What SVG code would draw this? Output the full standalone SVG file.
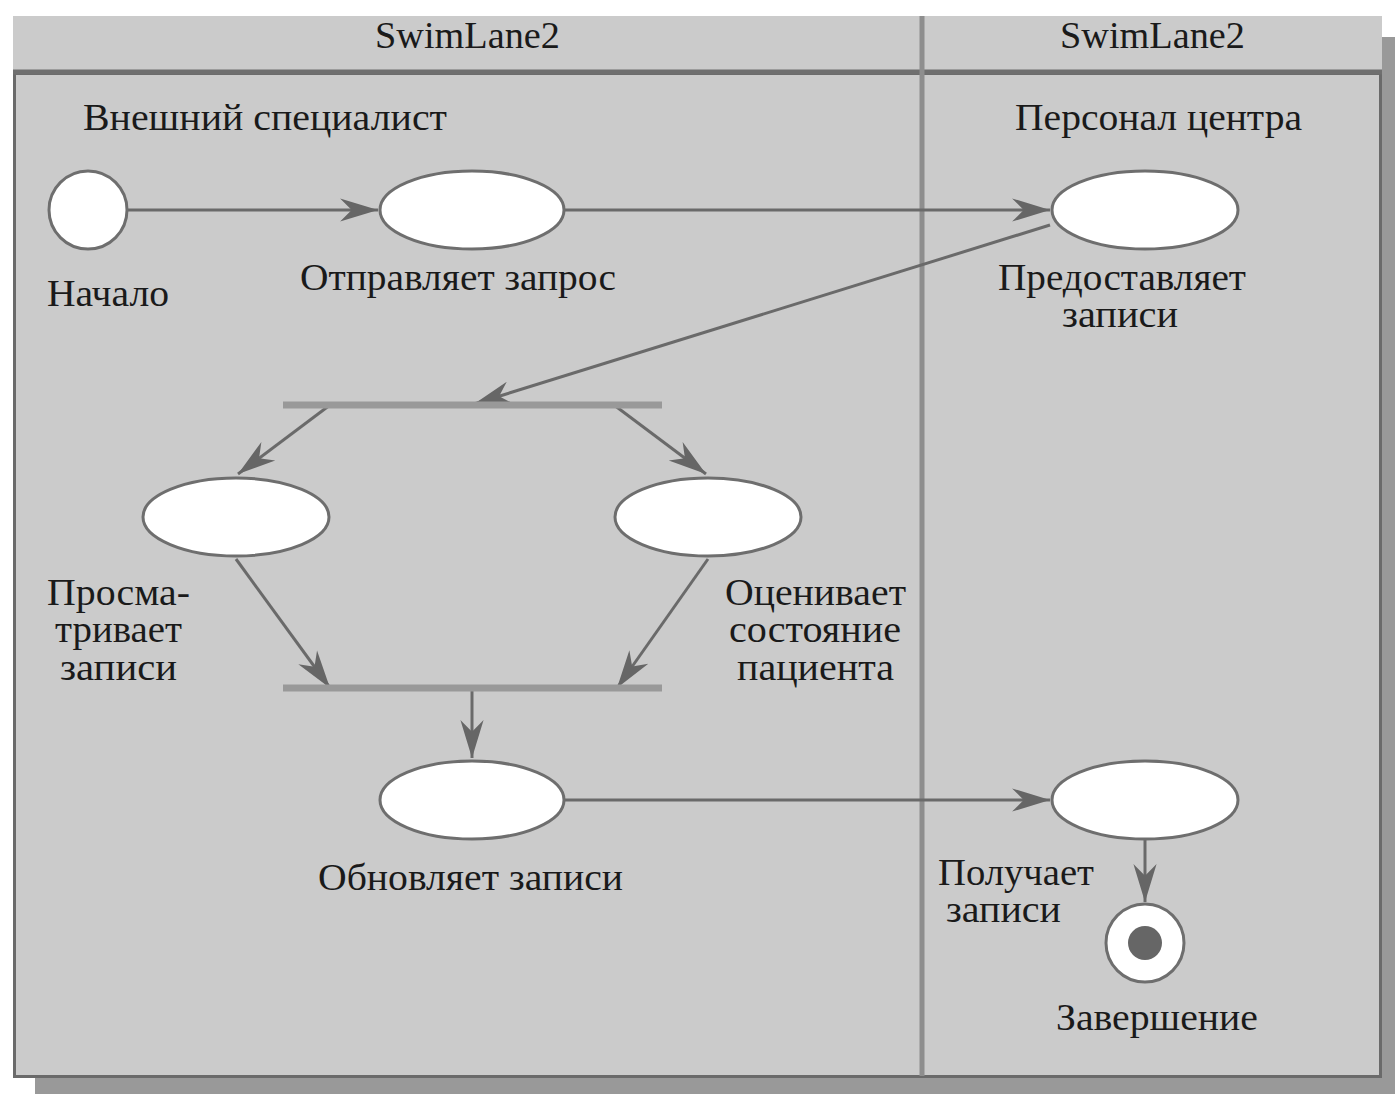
<svg xmlns="http://www.w3.org/2000/svg" width="1395" height="1094" viewBox="0 0 1395 1094">
<defs>
<style>
text{font-family:"Liberation Serif","Times New Roman",serif;font-size:37px;fill:#1a1a1a}
.c{text-anchor:middle}
.node{fill:#fff;stroke:#6e6e6e;stroke-width:3}
.bar{stroke:#999;stroke-width:7}
.edge{stroke:#6a6a6a;stroke-width:3;fill:none;marker-end:url(#arr)}
</style>
<marker id="arr" markerUnits="userSpaceOnUse" markerWidth="40" markerHeight="30" viewBox="-36 -12 38 24" refX="0" refY="0" orient="auto">
<path d="M0,0 L-36,-11 L-25,0 L-36,11 Z" fill="#666"/>
</marker>
</defs>
<rect width="1395" height="1094" fill="#fff"/>
<g id="frame">
<rect x="35" y="37" width="1360" height="1057" fill="#999"/>
<rect x="13" y="16" width="1369" height="56" fill="#cbcbcb"/>
<rect x="14.5" y="73.5" width="1366" height="1003" fill="#cbcbcb" stroke="#6a6a6a" stroke-width="3"/>
<line x1="13" y1="72" x2="1382" y2="72" stroke="#6f6f6f" stroke-width="5"/>
<line x1="922" y1="16" x2="922" y2="1076" stroke="#8e8e8e" stroke-width="5"/>
<text class="c" x="467.5" y="48" textLength="185" lengthAdjust="spacingAndGlyphs">SwimLane2</text>
<text class="c" x="1152.5" y="48" textLength="185" lengthAdjust="spacingAndGlyphs">SwimLane2</text>
<text x="83" y="130" textLength="364" lengthAdjust="spacingAndGlyphs">Внешний специалист</text>
<text class="c" x="1158.5" y="130" textLength="287" lengthAdjust="spacingAndGlyphs">Персонал центра</text>
</g>
<g id="connectors">
<line class="edge" x1="128" y1="210" x2="378" y2="210"/>
<line class="edge" x1="564" y1="210" x2="1050" y2="210"/>
<line class="edge" x1="1050" y1="225" x2="474" y2="404"/>
<line class="edge" x1="330" y1="405" x2="238" y2="474"/>
<line class="edge" x1="614" y1="405" x2="706" y2="474"/>
<line class="edge" x1="236" y1="559" x2="330" y2="688"/>
<line class="edge" x1="708" y1="559" x2="617" y2="688"/>
<line class="edge" x1="472" y1="690" x2="472" y2="758"/>
<line class="edge" x1="564" y1="800" x2="1050" y2="800"/>
<line class="edge" x1="1145" y1="840" x2="1145" y2="902"/>
</g>
<g id="start">
<circle class="node" cx="88" cy="210" r="39"/>
<text x="47" y="306" textLength="122" lengthAdjust="spacingAndGlyphs">Начало</text>
</g>
<g id="sendRequest">
<ellipse class="node" cx="472" cy="210" rx="92" ry="39"/>
<text class="c" x="458" y="290" textLength="316" lengthAdjust="spacingAndGlyphs">Отправляет запрос</text>
</g>
<g id="provideRecords">
<ellipse class="node" cx="1145" cy="210" rx="93" ry="39"/>
<text class="c" x="1122" y="290" textLength="248" lengthAdjust="spacingAndGlyphs">Предоставляет</text>
<text class="c" x="1120" y="327" textLength="116" lengthAdjust="spacingAndGlyphs">записи</text>
</g>
<g id="fork">
<line class="bar" x1="283" y1="405" x2="662" y2="405"/>
</g>
<g id="reviewRecords">
<ellipse class="node" cx="236" cy="517" rx="93" ry="39"/>
<text class="c" x="118.5" y="605" textLength="143" lengthAdjust="spacingAndGlyphs">Просма-</text>
<text class="c" x="118.5" y="642" textLength="127" lengthAdjust="spacingAndGlyphs">тривает</text>
<text class="c" x="118.5" y="680" textLength="117" lengthAdjust="spacingAndGlyphs">записи</text>
</g>
<g id="assessPatient">
<ellipse class="node" cx="708" cy="517" rx="93" ry="39"/>
<text class="c" x="815.5" y="605" textLength="181" lengthAdjust="spacingAndGlyphs">Оценивает</text>
<text class="c" x="815" y="642" textLength="172" lengthAdjust="spacingAndGlyphs">состояние</text>
<text class="c" x="815.5" y="680" textLength="157" lengthAdjust="spacingAndGlyphs">пациента</text>
</g>
<g id="join">
<line class="bar" x1="283" y1="688" x2="662" y2="688"/>
</g>
<g id="updateRecords">
<ellipse class="node" cx="472" cy="800" rx="92" ry="39"/>
<text class="c" x="470.5" y="890" textLength="305" lengthAdjust="spacingAndGlyphs">Обновляет записи</text>
</g>
<g id="receiveRecords">
<ellipse class="node" cx="1145" cy="800" rx="93" ry="39"/>
<text class="c" x="1016" y="885" textLength="156" lengthAdjust="spacingAndGlyphs">Получает</text>
<text class="c" x="1003.5" y="922" textLength="115" lengthAdjust="spacingAndGlyphs">записи</text>
</g>
<g id="end">
<circle class="node" cx="1145" cy="943" r="39"/>
<circle cx="1145" cy="943" r="17" fill="#666"/>
<text class="c" x="1157" y="1030" textLength="202" lengthAdjust="spacingAndGlyphs">Завершение</text>
</g>
</svg>
